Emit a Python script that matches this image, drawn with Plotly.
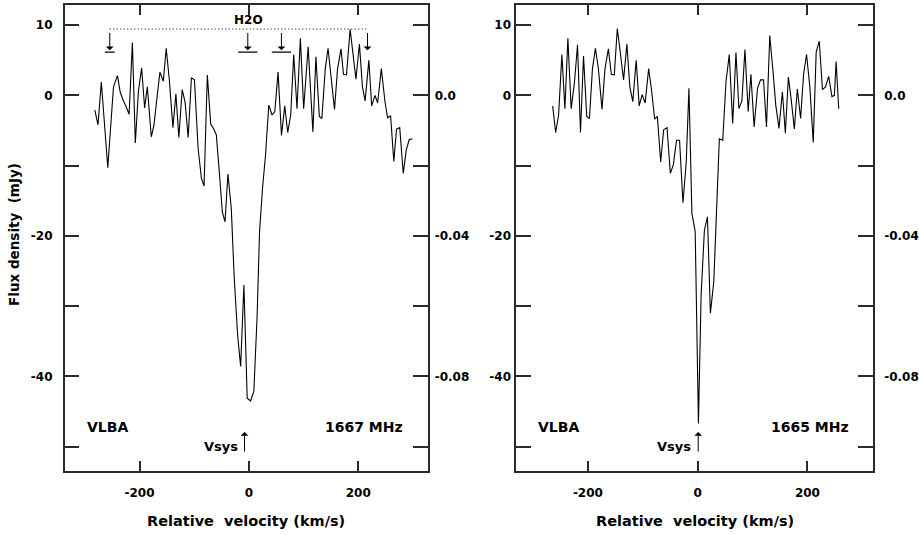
import plotly.graph_objects as go

# ---------------- data ----------------
vel_1667 = [-281.8, -276.0, -269.9, -258.1, -247.7, -240.4, -235.5, -230.1, -224.6, -219.1,
            -213.1, -207.7, -202.2, -196.2, -190.7, -185.8, -178.5, -173.6, -167.6, -162.7,
            -156.6, -151.2, -145.2, -139.0, -133.5, -128.1, -122.0, -116.6, -111.1, -105.1,
            -99.6, -92.9, -86.9, -82.0, -76.0, -69.8, -65.0, -59.6, -54.1, -48.6,
            -43.7, -38.3, -32.2, -26.8, -20.6, -15.1, -9.1, -3.1, 3.1, 9.1,
            15.1, 19.5, 25.0, 30.4, 36.4, 42.4, 47.4, 53.4, 59.6, 65.6,
            71.0, 76.5, 82.0, 88.0, 94.2, 100.2, 108.4, 117.1, 122.6, 128.8,
            133.5, 139.7, 144.8, 156.6, 162.1, 168.5, 173.0, 178.5, 185.2, 195.8,
            202.2, 207.7, 212.6, 219.5, 224.6, 230.8, 235.5, 242.3, 248.6, 253.7,
            259.2, 265.1, 270.1, 275.9, 282.3, 287.8, 293.3, 298.7]
flux_1667 = [-2.1, -4.2, 1.9, -10.3, 1.2, 2.8, 0.5, -0.7, -1.6, -2.7,
             7.5, -6.8, 0.5, 3.9, -1.8, 1.2, -5.9, -4.2, 0.0, 3.3,
             2.0, 6.7, 1.9, -4.6, 0.2, -6.0, 0.8, -1.0, -6.0, 2.5,
             2.2, -7.5, -11.8, -12.9, 2.9, -4.1, -4.7, -5.6, -10.9, -16.6,
             -18.0, -11.2, -16.1, -26.0, -34.1, -38.6, -27.0, -43.1, -43.5, -42.1,
             -31.3, -19.4, -13.2, -8.5, -1.4, -2.8, -2.3, 3.3, -5.7, -1.5,
             -5.3, -2.8, 5.8, -1.9, 8.1, -1.9, 6.9, -5.2, 5.5, -3.0,
             -3.3, 3.8, 6.7, -2.0, 3.7, 6.6, 3.0, 2.9, 9.4, 2.3,
             7.3, 1.2, -0.8, 5.0, -1.5, 0.0, -1.1, 3.8, -0.7, -3.2,
             -2.9, -9.4, -4.8, -4.6, -11.1, -7.8, -6.3, -6.2]

vel_1665 = [-264.2, -258.8, -253.4, -247.4, -241.9, -236.5, -230.5, -224.4, -218.9, -213.5,
            -208.0, -202.1, -197.2, -191.7, -186.3, -180.9, -174.3, -168.9, -162.7, -157.3,
            -151.9, -146.4, -140.4, -135.0, -129.0, -123.6, -118.2, -112.0, -106.6, -101.1,
            -95.7, -89.3, -84.3, -78.3, -73.4, -67.4, -62.0, -55.8, -49.8, -44.4,
            -38.4, -33.0, -26.8, -20.8, -15.9, -10.5, -4.5, 1.4, 6.3, 12.3,
            17.8, 23.2, 29.4, 34.1, 39.5, 45.7, 51.6, 57.6, 63.8, 69.8,
            75.2, 80.6, 86.1, 92.1, 97.0, 102.9, 109.1, 114.5, 120.0, 125.4,
            131.4, 137.4, 142.3, 148.2, 154.4, 159.8, 165.3, 170.7, 176.2, 181.6,
            187.6, 193.0, 198.4, 204.4, 210.6, 216.0, 221.6, 227.4, 232.9, 238.7,
            244.7, 249.2, 252.3, 257.0]
flux_1665 = [-1.5, -5.3, -2.8, 5.8, -1.9, 8.1, -1.9, 1.9, 7.2, -5.3,
             5.6, -3.0, -3.3, 3.8, 6.7, 3.8, -2.0, 3.8, 6.6, 3.0,
             2.9, 9.5, 5.7, 2.2, 7.3, 1.2, -0.9, 5.0, -1.5, 0.1,
             -1.1, 3.8, 0.9, -3.4, -3.0, -9.5, -4.9, -4.6, -11.1, -9.9,
             -6.4, -6.4, -15.3, -9.5, 1.0, -16.8, -19.4, -46.7, -28.4, -19.2,
             -17.3, -31.0, -26.5, -18.0, -6.2, -6.4, 1.9, 5.8, -4.0, 6.1,
             -1.9, -0.8, 6.5, -2.3, 3.0, -4.5, 1.0, 2.2, 2.2, -4.5,
             8.5, 3.3, -1.4, -4.7, 0.5, -5.4, 2.6, -0.8, -4.8, 0.9,
             -3.3, 3.0, 5.8, 1.2, -6.7, 6.2, 7.7, 0.8, 1.2, 2.7,
             -0.2, 0.0, 4.8, -1.9]

# H2O maser markers (left panel)
h2o_vel = [-254.5, -2.0, 59.5, 217.0]
h2o_halfwidth = [9.0, 17.5, 17.5, 0.0]
h2o_level = 9.43
h2o_tip = 6.4
h2o_bar = 6.15

vsys_left = -8.0
vsys_right = 1.0

x_tickvals = [-200, 0, 200]
x_ticktext = ['-200', '0', '200']
y_tickvals = [10, 0, -10, -20, -30, -40, -50]
y_ticktext = ['10', '0', '', '-20', '', '-40', '']
tau_tickvals = [0, -20, -40]
tau_ticktext = ['0.0', '-0.04', '-0.08']

# ---------------- figure ----------------
W, H = 919, 535
FONT = 'DejaVu Sans'
AX_COLOR = '#2a2a2a'

def px_x(p):
    return p / W

def px_y(p):
    return (H - p) / H

fig = go.Figure()
fig.add_trace(go.Scatter(x=vel_1667, y=flux_1667, mode='lines',
                         line=dict(color='black', width=1.1), xaxis='x', yaxis='y',
                         showlegend=False, hoverinfo='skip'))
fig.add_trace(go.Scatter(x=vel_1665, y=flux_1665, mode='lines',
                         line=dict(color='black', width=1.1), xaxis='x2', yaxis='y2',
                         showlegend=False, hoverinfo='skip'))
# invisible traces for right-hand axes
fig.add_trace(go.Scatter(x=[0], y=[0], mode='markers', marker=dict(opacity=0),
                         xaxis='x', yaxis='y3', showlegend=False, hoverinfo='skip'))
fig.add_trace(go.Scatter(x=[0], y=[0], mode='markers', marker=dict(opacity=0),
                         xaxis='x2', yaxis='y4', showlegend=False, hoverinfo='skip'))

yrange = [-53.46, 12.85]
ydom = [px_y(471), px_y(5)]
tickfont = dict(family=FONT, size=12, color='black', weight='bold')

def xaxis_cfg(dom, rng):
    return dict(domain=dom, range=rng, tickvals=x_tickvals, ticktext=x_ticktext,
                ticks='inside', ticklen=10,
                tickwidth=1.5, tickcolor=AX_COLOR, mirror='ticks', showline=True,
                linewidth=1.5, linecolor=AX_COLOR, showgrid=False, zeroline=False,
                tickfont=tickfont, ticklabelstandoff=10, fixedrange=True)

def yaxis_cfg(anchor, standoff):
    return dict(domain=ydom, range=yrange, anchor=anchor, tickvals=y_tickvals,
                ticktext=y_ticktext, ticks='inside', ticklen=15, tickwidth=1.5,
                tickcolor=AX_COLOR, mirror='ticks', showline=True, linewidth=1.5,
                linecolor=AX_COLOR, showgrid=False, zeroline=False, tickfont=tickfont,
                ticklabelstandoff=standoff, fixedrange=True)

def tau_cfg(over, anchor, standoff):
    return dict(overlaying=over, anchor=anchor, side='right', range=yrange,
                tickvals=tau_tickvals, ticktext=tau_ticktext, ticks='', showline=False,
                showgrid=False, zeroline=False, tickfont=tickfont,
                ticklabelstandoff=standoff, fixedrange=True)

fig.update_layout(
    width=W, height=H, margin=dict(l=0, r=0, t=0, b=0),
    paper_bgcolor='white', plot_bgcolor='white',
    font=dict(family=FONT, color='black'),
    xaxis=xaxis_cfg([px_x(65), px_x(430)], [-337, 327]),
    xaxis2=xaxis_cfg([px_x(519), px_x(878)], [-330.7, 319.9]),
    yaxis=yaxis_cfg('x', 8),
    yaxis2=yaxis_cfg('x2', 1),
    yaxis3=tau_cfg('y', 'x', 6),
    yaxis4=tau_cfg('y2', 'x2', 10),
    showlegend=False,
)
fig.layout.xaxis2.anchor = 'y2'

annots = []
shapes = []
bold = lambda s: dict(family=FONT, size=s, color='black', weight='bold')

# axis titles
for dom in ([65, 430], [519, 878]):
    annots.append(dict(text='Relative  velocity (km/s)', xref='paper', yref='paper',
                       x=px_x((dom[0] + dom[1]) / 2), y=px_y(521), showarrow=False,
                       xanchor='center', yanchor='middle', font=bold(14.5)))
annots.append(dict(text='Flux density  (mJy)', xref='paper', yref='paper', x=px_x(14),
                   y=px_y(234), textangle=-90, showarrow=False, xanchor='center',
                   yanchor='middle', font=bold(13.5)))

# panel labels
for xr, yr, rng, freq in (('x', 'y', [-337, 327], '1667 MHz'), ('x2', 'y2', [-330.7, 319.9], '1665 MHz')):
    annots.append(dict(text='VLBA', xref=xr, yref=yr, x=rng[0] + 0.055 * (rng[1] - rng[0]),
                       y=-47.2, showarrow=False, xanchor='left', yanchor='middle', font=bold(14)))
    annots.append(dict(text=freq, xref=xr, yref=yr, x=rng[1] - 0.063 * (rng[1] - rng[0]),
                       y=-47.2, showarrow=False, xanchor='right', yanchor='middle', font=bold(14)))

# Vsys arrows
for xr, yr, vs in (('x', 'y', vsys_left), ('x2', 'y2', vsys_right)):
    annots.append(dict(text='', xref=xr, yref=yr, x=vs, y=-47.9, ax=vs, ay=-50.9,
                       axref=xr, ayref=yr, showarrow=True, arrowhead=1, arrowsize=1.3,
                       arrowwidth=1, arrowcolor='black'))
    annots.append(dict(text='Vsys', xref=xr, yref=yr, x=vs - 9, y=-50.0, showarrow=False,
                       xanchor='right', yanchor='middle', font=bold(13)))

# H2O markers
annots.append(dict(text='H2O', xref='x', yref='y', x=0, y=10.7, showarrow=False,
                   xanchor='center', yanchor='middle', font=bold(12)))
shapes.append(dict(type='line', xref='x', yref='y', x0=h2o_vel[0], x1=h2o_vel[-1],
                   y0=h2o_level, y1=h2o_level,
                   line=dict(color='black', width=1, dash='1px,2.5px')))
for v, hw in zip(h2o_vel, h2o_halfwidth):
    annots.append(dict(text='', xref='x', yref='y', x=v, y=h2o_tip, ax=v, ay=h2o_level - 0.35,
                       axref='x', ayref='y', showarrow=True, arrowhead=1, arrowsize=1.3,
                       arrowwidth=1, arrowcolor='black'))
    if hw > 0:
        shapes.append(dict(type='line', xref='x', yref='y', x0=v - hw, x1=v + hw,
                           y0=h2o_bar, y1=h2o_bar, line=dict(color='black', width=1.2)))

fig.update_layout(annotations=annots, shapes=shapes)
fig.write_html('out.html')
